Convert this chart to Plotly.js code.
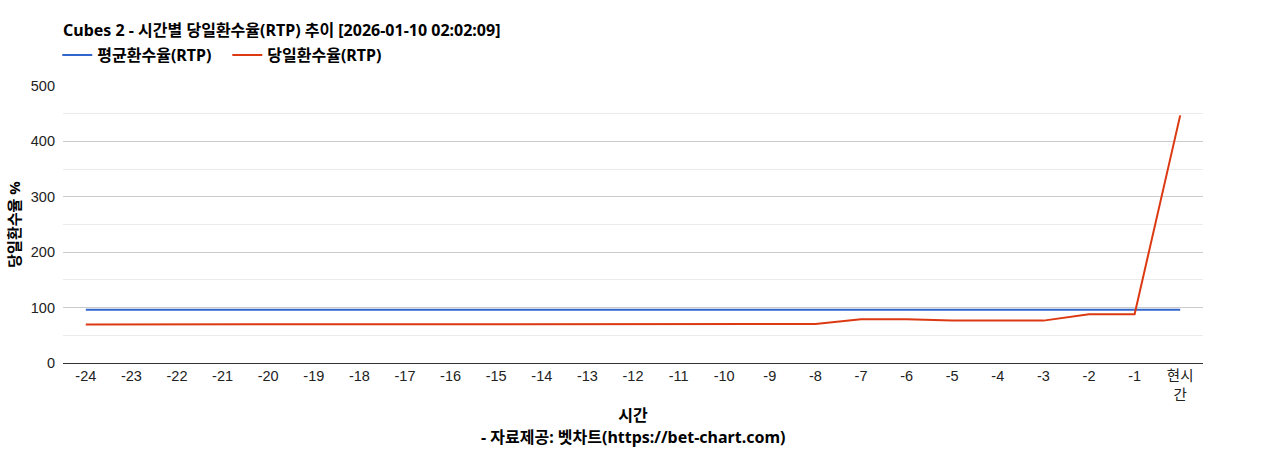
<!DOCTYPE html>
<html><head><meta charset="utf-8">
<script src="https://cdn.plot.ly/plotly-3.0.1.min.js"></script>
<style>html,body{margin:0;padding:0;background:#fff}#chart{width:1268px;height:450px}</style>
</head><body><div id="chart"></div>
<script>
const categories = ['-24','-23','-22','-21','-20','-19','-18','-17','-16','-15','-14','-13','-12','-11','-10','-9','-8','-7','-6','-5','-4','-3','-2','-1','현시간'];
const tickLabels = ['-24','-23','-22','-21','-20','-19','-18','-17','-16','-15','-14','-13','-12','-11','-10','-9','-8','-7','-6','-5','-4','-3','-2','-1','현시<br>간'];
const avgRTP = [96,96,96,96,96,96,96,96,96,96,96,96,96,96,96,96,96,96,96,96,96,96,96,96,96];
const dayRTP = [69.5,69.5,69.5,69.5,69.5,69.5,69.5,70.5,70.5,70.5,70.5,70.5,70.5,70.5,70.5,70.5,70.5,79,79,76.5,76.5,76.5,88,88,447];
const FONT = '"Noto Sans", "Noto Sans CJK KR", sans-serif';
const TICKFONT = '"Liberation Sans", Arial, "Noto Sans CJK KR", sans-serif';

const traces = [
  {x: categories, y: avgRTP, name: '평균환수율(RTP)', type: 'scatter', mode: 'lines',
   line: {color: '#3366cc', width: 2}},
  {x: categories, y: dayRTP, name: '당일환수율(RTP)', type: 'scatter', mode: 'lines',
   line: {color: '#dc3912', width: 2}}
];

const layout = {
  width: 1268, height: 450,
  margin: {l: 63, r: 65, t: 86, b: 87},
  paper_bgcolor: '#fff', plot_bgcolor: '#fff',
  font: {family: FONT, size: 14, color: '#222'},
  title: {text: '<b>Cubes 2 - 시간별 당일환수율(RTP) 추이 [2026-01-10 02:02:09]</b>',
    x: 63/1268, xanchor: 'left', xref: 'container', y: 1 - 30/450, yanchor: 'middle', yref: 'container',
    font: {family: FONT, size: 16, color: '#000'}},
  showlegend: true,
  legend: {orientation: 'h', x: -0.005, xanchor: 'left', y: 1.173, yanchor: 'top',
    font: {family: FONT, size: 16, color: '#000', weight: 'bold'}, itemwidth: 30,
    entrywidth: 125, entrywidthmode: 'pixels', tracegroupgap: 0},
  xaxis: {type: 'category', tickvals: categories, ticktext: tickLabels,
    range: [-0.5, categories.length - 0.5],
    showgrid: false, showline: true, linecolor: '#333', linewidth: 1, ticks: '',
    tickfont: {family: TICKFONT, size: 14.5, color: '#222'},
    title: {text: '<b>시간</b>', font: {family: FONT, size: 16, color: '#000'}, standoff: 7},
    fixedrange: true},
  yaxis: {range: [0, 500], dtick: 100, tick0: 0, showgrid: true, gridcolor: '#cccccc', gridwidth: 1,
    zeroline: false, showline: false, ticks: '', ticklabelstandoff: 7,
    minor: {dtick: 50, showgrid: true, gridcolor: '#ebebeb', gridwidth: 1},
    tickfont: {family: TICKFONT, size: 14.5, color: '#222'},
    title: {text: '<b>당일환수율 %</b>', font: {family: FONT, size: 15, color: '#000'}, standoff: 6},
    fixedrange: true},
  annotations: [
    {text: '<b>- 자료제공: 벳차트(https://bet-chart.com)</b>', xref: 'paper', yref: 'paper',
     x: 0.5, y: -(437 - 363) / 277, xanchor: 'center', yanchor: 'middle', showarrow: false,
     font: {family: FONT, size: 16, color: '#000'}}
  ]
};
Plotly.newPlot('chart', traces, layout, {displayModeBar: false, staticPlot: true});
</script></body></html>
